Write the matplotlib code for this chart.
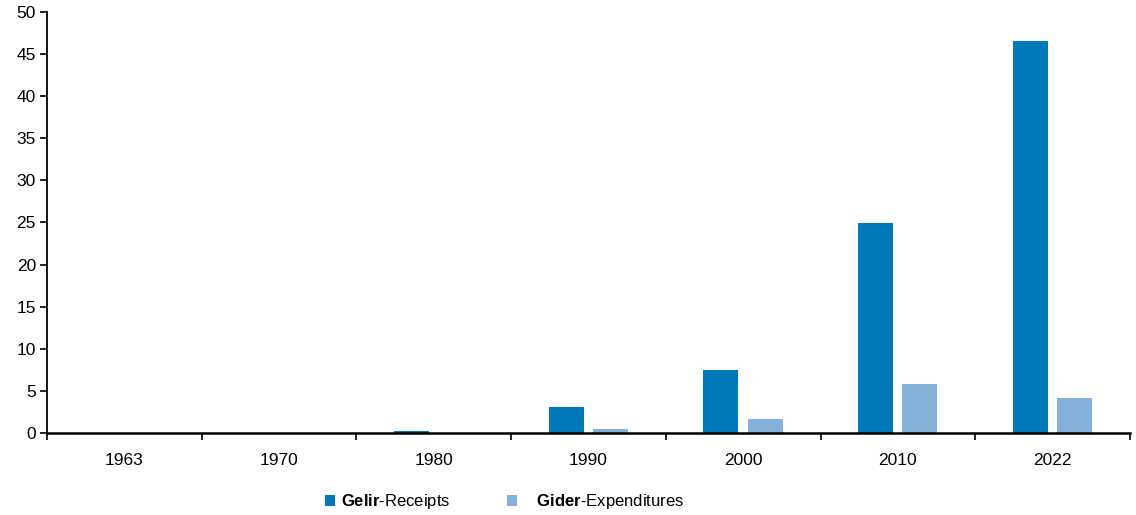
import matplotlib
matplotlib.use("Agg")
import matplotlib.pyplot as plt
import numpy as np

years = ["1963", "1970", "1980", "1990", "2000", "2010", "2022"]
gelir = [0.0, 0.0, 0.3, 3.1, 7.5, 24.9, 46.5]
gider = [0.0, 0.0, 0.05, 0.45, 1.7, 5.8, 4.2]
yticks = [0, 5, 10, 15, 20, 25, 30, 35, 40, 45, 50]

plt.rcParams['font.family'] = ['Liberation Sans', 'DejaVu Sans']
plt.rcParams['mathtext.fontset'] = 'custom'
plt.rcParams['mathtext.rm'] = 'Liberation Sans'
plt.rcParams['mathtext.bf'] = 'Liberation Sans:bold'

c_dark = '#0079BB'
c_light = '#84B1D9'

fig = plt.figure(figsize=(11.36, 5.15), dpi=100)
ax = fig.add_axes([0.0414, 0.159, 0.9533, 0.818])

x = np.arange(len(years))
w = 0.226
ax.bar(x - 0.145, gelir, w, color=c_dark, label=r'$\mathbf{Gelir}$-Receipts')
ax.bar(x + 0.142, gider, w, color=c_light, label=r'   $\mathbf{Gider}$-Expenditures')

ax.set_xlim(-0.5, len(years) - 0.5)
ax.set_ylim(0, 50)
ax.set_yticks(yticks)
ax.set_xticks(x)
ax.set_xticklabels(years)
ax.set_xticks(np.arange(-0.5, len(years)), minor=True)
ax.tick_params(axis='x', which='major', length=0, pad=14, labelsize=12.5)
ax.tick_params(axis='x', which='minor', length=5, width=1.2, direction='out')
ax.tick_params(axis='y', length=5, width=1.2, labelsize=12.5, pad=3)

for s in ['top', 'right']:
    ax.spines[s].set_visible(False)
ax.spines['left'].set_linewidth(1.3)
ax.spines['bottom'].set_linewidth(1.8)

leg = fig.legend(loc='center', bbox_to_anchor=(0.4443, 0.026), ncol=2, frameon=False,
                 fontsize=12, handlelength=0.6, handleheight=0.6, handletextpad=0.35,
                 columnspacing=3.4)

fig.savefig('out.png', dpi=100)
